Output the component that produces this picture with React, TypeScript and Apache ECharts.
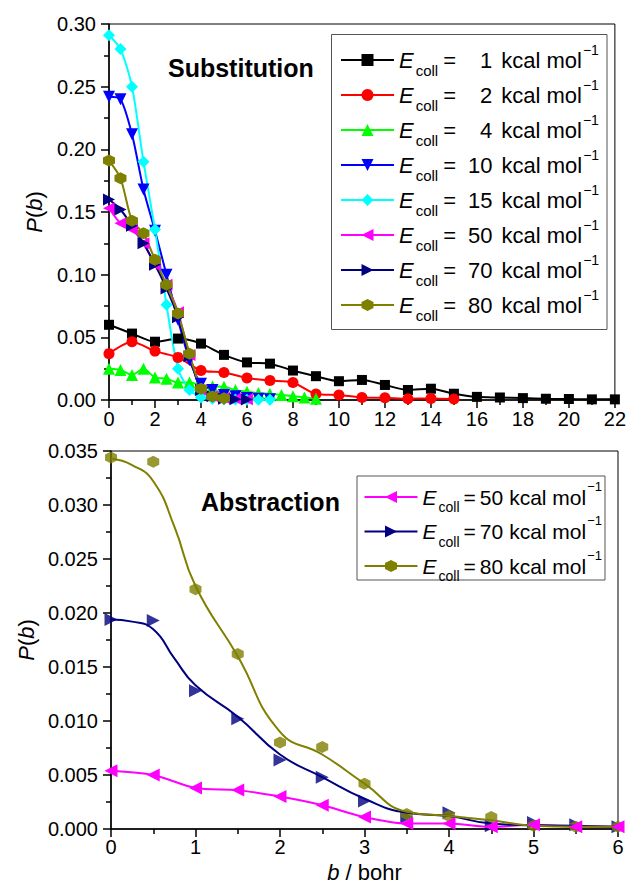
import React, { useEffect, useRef } from 'react';
import * as echarts from 'echarts';

const FONT = "'Liberation Sans', Arial, Helvetica, sans-serif";

// ---------- Substitution (top panel) ----------
const bWhole = [0, 1, 2, 3, 4, 5, 6, 7, 8, 9, 10, 11, 12, 13, 14, 15, 16, 17, 18, 19, 20, 21, 22];
const bHalf = [0, 0.5, 1, 1.5, 2, 2.5, 3, 3.5, 4, 4.5, 5, 5.5, 6, 6.5, 7, 7.5, 8, 8.5, 9];
const sub1 = [0.060, 0.053, 0.0465, 0.049, 0.045, 0.036, 0.030, 0.029, 0.0235, 0.019, 0.015, 0.016, 0.012, 0.008, 0.009, 0.005, 0.0025, 0.002, 0.0015, 0.001, 0.0008, 0.0005, 0.0005];
const sub2 = [0.037, 0.0465, 0.039, 0.034, 0.0235, 0.022, 0.0175, 0.0155, 0.014, 0.0048, 0.004, 0.002, 0.0018, 0.001, 0.0012, 0.0008];
const sub4 = [0.025, 0.024, 0.020, 0.025, 0.018, 0.017, 0.014, 0.014, 0.012, 0.011, 0.0105, 0.008, 0.0065, 0.0055, 0.005, 0.004, 0.003, 0.002, 0.001];
const sub10 = [0.242, 0.240, 0.212, 0.168, 0.135, 0.100, 0.064, 0.032, 0.013, 0.008, 0.004, 0.003, 0.0015, 0.001, 0.0005];
const sub15 = [0.291, 0.280, 0.250, 0.190, 0.136, 0.076, 0.025, 0.008, 0.002, 0.001, 0.0005, 0.0003, 0.0002, 0.0001, 0.0001];
const sub50 = [0.153, 0.141, 0.136, 0.125, 0.108, 0.092, 0.070, 0.036, 0.008, 0.003, 0.0015, 0.001, 0.0005];
const sub70 = [0.160, 0.152, 0.139, 0.125, 0.108, 0.089, 0.066, 0.035, 0.008, 0.003, 0.001, 0.0005, 0.0003];
const sub80 = [0.191, 0.177, 0.143, 0.133, 0.112, 0.092, 0.069, 0.037, 0.009, 0.0027, 0.0013];

// ---------- Abstraction (bottom panel) ----------
const bAbs = [0, 0.5, 1, 1.5, 2, 2.5, 3, 3.5, 4, 4.5, 5, 5.5, 6];
const abs50 = [0.0054, 0.0050, 0.0038, 0.0036, 0.0030, 0.0022, 0.0011, 0.0005, 0.0005, 0.0002, 0.0004, 0.0002, 0.0002];
const abs70 = [0.0194, 0.0193, 0.0128, 0.0102, 0.0064, 0.0048, 0.0026, 0.0011, 0.0015, 0.0003, 0.0006, 0.0004, 0.0002];
const abs80 = [0.0344, 0.0340, 0.0222, 0.0162, 0.0080, 0.0076, 0.0042, 0.0014, 0.0012, 0.0011, 0.0003, 0.0002, 0.0002];
// fitted curves
const bFit = [0, 0.25, 0.5, 0.75, 1, 1.5, 2, 2.5, 3, 3.5, 4, 4.5, 5, 5.5, 6];
const fit70 = [0.0194, 0.0192, 0.0185, 0.0158, 0.0133, 0.0104, 0.0069, 0.0048, 0.0028, 0.0015, 0.0012, 0.0005, 0.00035, 0.0003, 0.0002];
const fit80 = [0.0343, 0.0337, 0.0322, 0.0280, 0.0225, 0.0160, 0.0090, 0.0069, 0.0042, 0.0016, 0.0012, 0.0008, 0.0003, 0.0002, 0.0002];

const HEX = 'path://M0,-10L8.66,-5L8.66,5L0,10L-8.66,5L-8.66,-5Z';

const topDefs = [
  { key: '1', color: '#000000', symbol: 'rect', rot: 0, size: 10, b: bWhole, v: sub1 },
  { key: '2', color: '#FF0000', symbol: 'circle', rot: 0, size: 11, b: bWhole, v: sub2 },
  { key: '4', color: '#00FF00', symbol: 'triangle', rot: 0, size: 12, b: bHalf, v: sub4 },
  { key: '10', color: '#0000FF', symbol: 'triangle', rot: 180, size: 12, b: bHalf, v: sub10 },
  { key: '15', color: '#00FFFF', symbol: 'diamond', rot: 0, size: 12, b: bHalf, v: sub15 },
  { key: '50', color: '#FF00FF', symbol: 'triangle', rot: 90, size: 12, b: bHalf, v: sub50 },
  { key: '70', color: '#000080', symbol: 'triangle', rot: -90, size: 12, b: bHalf, v: sub70 },
  { key: '80', color: '#808000', symbol: HEX, rot: 0, size: 12, b: bHalf, v: sub80 },
];

const pairs = (b: number[], v: number[]) => v.map((y, i) => [b[i], y]);

const tok = (size: number, extra: any = {}) => ({ fontFamily: FONT, fontSize: size, color: '#000', ...extra });

const topRich = {
  e: tok(22, { fontStyle: 'italic', lineHeight: 35 }),
  s: tok(15, { lineHeight: 14, verticalAlign: 'bottom', padding: [0, 0, 0, 2] }),
  eq2: tok(22, { lineHeight: 35, padding: [0, 12, 0, 5] }),
  eq1: tok(22, { lineHeight: 35, padding: [0, 24, 0, 5] }),
  n: tok(22, { lineHeight: 35 }),
  t: tok(22, { lineHeight: 35, padding: [0, 0, 0, 9] }),
  p: tok(14, { lineHeight: 22, verticalAlign: 'top', padding: [0, 0, 0, 1] }),
};
const botRich = {
  e: tok(21, { fontStyle: 'italic', lineHeight: 34.5 }),
  s: tok(14, { lineHeight: 14, verticalAlign: 'bottom', padding: [0, 0, 0, 2] }),
  eqb: tok(21, { lineHeight: 34.5, padding: [0, 4, 0, 4] }),
  n: tok(21, { lineHeight: 34.5 }),
  t: tok(21, { lineHeight: 34.5, padding: [0, 0, 0, 6] }),
  p: tok(13, { lineHeight: 22, verticalAlign: 'top', padding: [0, 0, 0, 1] }),
};

const topLabel = (name: string) => {
  const n = name.split('-')[1];
  const eq = n.length === 1 ? 'eq1' : 'eq2';
  return `{e|E}{s|coll}{${eq}|=}{n|${n}}{t|kcal mol}{p|\u22121}`;
};
const botLabel = (name: string) => {
  const n = name.split('-')[1];
  return `{e|E}{s|coll}{eqb|=}{n|${n}}{t|kcal mol}{p|\u22121}`;
};

const axisCommon = {
  axisLine: { show: true, onZero: false, lineStyle: { color: '#000', width: 1.5 } },
  axisTick: { show: true, inside: false, length: 8, lineStyle: { color: '#000', width: 1.5 } },
  minorTick: { show: true, splitNumber: 2, length: 5, lineStyle: { color: '#000', width: 1.5 } },
  splitLine: { show: false },
  minorSplitLine: { show: false },
};
const labelCommon = { color: '#000', fontSize: 20, fontFamily: FONT };
const nameStyle = {
  fontSize: 22, fontFamily: FONT, color: '#000',
  rich: { i: tok(22, { fontStyle: 'italic' }), r: tok(22), rp: tok(22, { padding: [0, 0, 0, 6] }) },
};

const series: any[] = [];
topDefs.forEach((d) => {
  series.push({
    type: 'line', name: 'sub-' + d.key, xAxisIndex: 0, yAxisIndex: 0,
    data: pairs(d.b, d.v), symbol: d.symbol, symbolRotate: d.rot, symbolSize: d.size,
    smooth: 0.25, clip: false,
    lineStyle: { color: d.color, width: 2 }, itemStyle: { color: d.color },
  });
});
// bottom panel
series.push({
  type: 'line', name: 'abs-50', xAxisIndex: 1, yAxisIndex: 1,
  data: pairs(bAbs, abs50), symbol: 'triangle', symbolRotate: 90, symbolSize: 13,
  smooth: 0.3, clip: false,
  lineStyle: { color: '#FF00FF', width: 2 }, itemStyle: { color: '#FF00FF' },
});
series.push({
  type: 'line', name: 'abs-70', xAxisIndex: 1, yAxisIndex: 1,
  data: pairs(bFit, fit70), symbol: 'triangle', symbolRotate: -90, symbolSize: 13, showSymbol: false,
  smooth: 0.5, clip: false,
  lineStyle: { color: '#000080', width: 2 }, itemStyle: { color: '#000080' },
});
series.push({
  type: 'scatter', name: 'abs-70-pts', xAxisIndex: 1, yAxisIndex: 1,
  data: pairs(bAbs, abs70), symbol: 'triangle', symbolRotate: -90, symbolSize: 13, clip: false,
  itemStyle: { color: '#000080' },
});
series.push({
  type: 'line', name: 'abs-80', xAxisIndex: 1, yAxisIndex: 1,
  data: pairs(bFit, fit80), symbol: HEX, symbolSize: 12, showSymbol: false,
  smooth: 0.5, clip: false,
  lineStyle: { color: '#808000', width: 2 }, itemStyle: { color: '#808000' },
});
series.push({
  type: 'scatter', name: 'abs-80-pts', xAxisIndex: 1, yAxisIndex: 1,
  data: pairs(bAbs, abs80), symbol: HEX, symbolSize: 12, clip: false,
  itemStyle: { color: '#808000' },
});

const option: any = {
  animation: false,
  backgroundColor: '#fff',
  grid: [
    { left: 109, top: 24, width: 508, height: 376, show: true, borderColor: '#000', borderWidth: 1 },
    { left: 111, top: 451, width: 507, height: 378, show: true, borderColor: '#000', borderWidth: 1 },
  ],
  xAxis: [
    { ...axisCommon, type: 'value', gridIndex: 0, min: 0, max: 22, interval: 2,
      axisLabel: { ...labelCommon, margin: 9 } },
    { ...axisCommon, type: 'value', gridIndex: 1, min: 0, max: 6, interval: 1,
      axisLabel: { ...labelCommon, margin: 8 },
      name: '{i|b}{rp|/ bohr}', nameLocation: 'middle', nameGap: 32, nameTextStyle: nameStyle },
  ],
  yAxis: [
    { ...axisCommon, type: 'value', gridIndex: 0, min: 0, max: 0.3, interval: 0.05,
      axisLabel: { ...labelCommon, margin: 13, formatter: (v: number) => v.toFixed(2) },
      name: '{i|P}{r|(}{i|b}{r|)}', nameLocation: 'middle', nameGap: 64, nameTextStyle: nameStyle },
    { ...axisCommon, type: 'value', gridIndex: 1, min: 0, max: 0.035, interval: 0.005,
      axisLabel: { ...labelCommon, margin: 13, formatter: (v: number) => v.toFixed(3) },
      name: '{i|P}{r|(}{i|b}{r|)}', nameLocation: 'middle', nameGap: 66, nameTextStyle: nameStyle },
  ],
  legend: [
    {
      data: topDefs.map((d) => 'sub-' + d.key), orient: 'vertical', left: 340, top: 42.5,
      padding: 0, itemGap: 0, itemWidth: 53, itemHeight: 15, selectedMode: false,
      formatter: topLabel, textStyle: { ...tok(22), lineHeight: 35, rich: topRich },
    },
    {
      data: ['abs-50', 'abs-70', 'abs-80'], orient: 'vertical', left: 363.5, top: 479.75,
      padding: 0, itemGap: 0, itemWidth: 53, itemHeight: 15, selectedMode: false,
      formatter: botLabel, textStyle: { ...tok(21), lineHeight: 34.5, rich: botRich },
    },
  ],
  graphic: [
    { type: 'rect', shape: { x: 331.5, y: 34.5, width: 275.5, height: 295 }, style: { fill: 'none', stroke: '#555', lineWidth: 1 } },
    { type: 'rect', shape: { x: 357, y: 476, width: 248, height: 104 }, style: { fill: 'none', stroke: '#555', lineWidth: 1 } },
    { type: 'text', x: 168, y: 68, style: { text: 'Substitution', fontFamily: FONT, fontSize: 25, fontWeight: 'bold', fill: '#000', verticalAlign: 'middle' } },
    { type: 'text', x: 201, y: 502, style: { text: 'Abstraction', fontFamily: FONT, fontSize: 25, fontWeight: 'bold', fill: '#000', verticalAlign: 'middle' } },
  ],
  series,
};

export default function App() {
  const ref = useRef<HTMLDivElement>(null);
  useEffect(() => {
    if (!ref.current) return;
    const chart = echarts.init(ref.current, null, { renderer: 'svg' });
    chart.setOption(option);
    return () => chart.dispose();
  }, []);
  return <div ref={ref} style={{ position: 'absolute', left: 0, top: 0, width: 629, height: 886, background: '#fff' }} />;
}
